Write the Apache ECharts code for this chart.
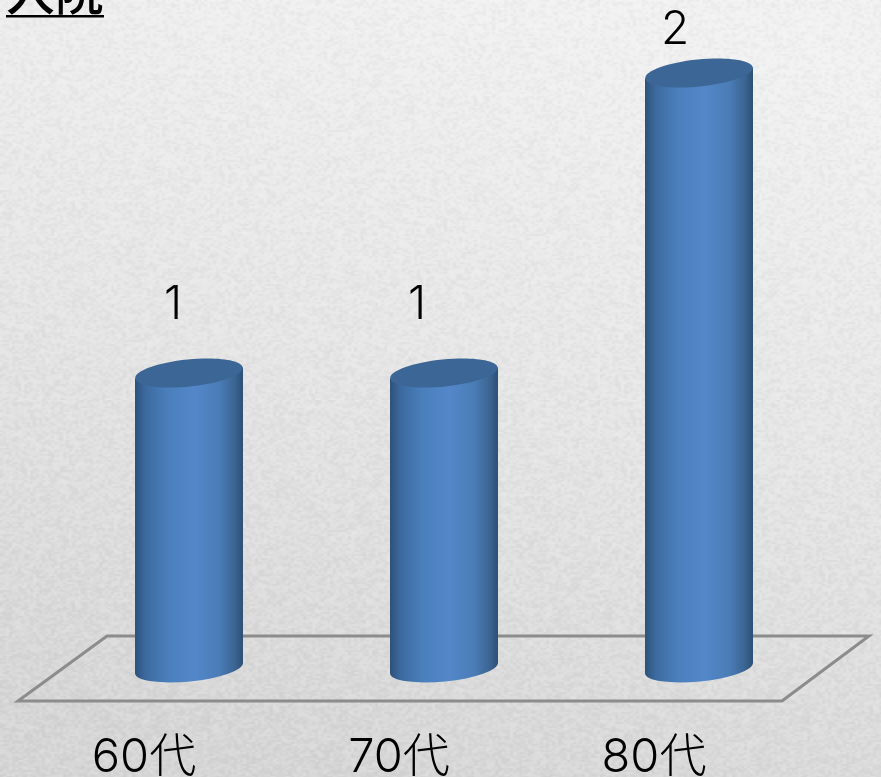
<!DOCTYPE html>
<html>
<head>
<meta charset="utf-8">
<title>入院</title>
<style>
html,body{margin:0;padding:0;background:#e8e8e8;}
#chart{width:881px;height:777px;}
</style>
<script src="https://cdn.jsdelivr.net/npm/echarts@6/dist/echarts.min.js"></script>
</head>
<body>
<div id="chart"></div>
<script>
"use strict";
var titleText = '入院';
var categories = ['60代', '70代', '80代'];
var values = [1, 1, 2];

// the value labels sit off-centre in the original 3D view
var labelDx = [-16, -27, -24];
var labelDy = [-68, -68, -43];
var FONT = 'Inter, "Noto Sans CJK JP"';
var RX = 54, RY = 13.5, TILT = 0.1;

// paper grain for the backdrop (fixed sequence, nothing to do with the data)
function makeGrain() {
    var small = document.createElement('canvas');
    small.width = 200; small.height = 200;
    var c = small.getContext('2d');
    var seed = 12345;
    for (var y = 0; y < 200; y++) {
        for (var x = 0; x < 200; x++) {
            seed = (seed * 1103515245 + 12345) & 0x7fffffff;
            var n = (seed >> 8) % 100;
            c.fillStyle = n < 50 ? 'rgba(0,0,0,' + (0.04 * (50 - n) / 50) + ')'
                                 : 'rgba(255,255,255,' + (0.2 * (n - 50) / 50) + ')';
            c.fillRect(x, y, 1, 1);
        }
    }
    var tile = document.createElement('canvas');
    tile.width = 600; tile.height = 400;
    var t = tile.getContext('2d');
    t.imageSmoothingEnabled = true;
    t.drawImage(small, 0, 0, 600, 400);
    return tile;
}

// cylinder: side path + tilted top ellipse
function renderCylinder(params, api) {
    var i = api.value(0);
    var top = api.coord([i, api.value(1)]);
    var base = api.coord([i, 0]);
    var cx = top[0];
    var dy = RX * Math.sin(TILT);
    var by = base[1] - 5;
    var rotDeg = -TILT * 180 / Math.PI;
    var d = 'M' + (cx - RX) + ' ' + (top[1] + dy) +
        ' L' + (cx + RX) + ' ' + (top[1] - dy) +
        ' L' + (cx + RX) + ' ' + (by - dy) +
        ' A' + RX + ' ' + RY + ' ' + rotDeg + ' 0 1 ' + (cx - RX) + ' ' + (by + dy) + ' Z';
    return {
        type: 'group',
        children: [
            {
                type: 'path',
                shape: { pathData: d },
                style: {
                    fill: new echarts.graphic.LinearGradient(0, 0, 1, 0, [
                        { offset: 0, color: '#2c5178' },
                        { offset: 0.1, color: '#3c6a9f' },
                        { offset: 0.3, color: '#4a7fbc' },
                        { offset: 0.55, color: '#5387c9' },
                        { offset: 0.78, color: '#4a7cb6' },
                        { offset: 0.92, color: '#3b6592' },
                        { offset: 1, color: '#2c4f74' }
                    ])
                }
            },
            {
                type: 'ellipse',
                x: cx, y: top[1], rotation: TILT,
                shape: { cx: 0, cy: 0, rx: RX, ry: RY },
                style: { fill: '#3c6695' }
            },
            {
                type: 'text',
                x: cx + labelDx[params.dataIndex],
                y: top[1] + labelDy[params.dataIndex],
                style: {
                    text: String(api.value(1)),
                    font: '300 46px ' + FONT,
                    fill: '#000',
                    align: 'center',
                    verticalAlign: 'middle'
                }
            }
        ]
    };
}

var myChart = echarts.init(document.getElementById('chart'));
var option = {
    animation: false,
    backgroundColor: new echarts.graphic.LinearGradient(0.6, 0, 0.4, 1, [
        { offset: 0, color: '#f2f2f2' },
        { offset: 0.5, color: '#e6e6e6' },
        { offset: 1, color: '#d6d6d6' }
    ]),
    // labels run close to the bottom edge, keep the grid where it is
    grid: { left: 61.5, right: 54.5, top: 73, bottom: 104, outerBoundsMode: 'none' },
    xAxis: {
        type: 'category',
        data: categories,
        axisLine: { show: false },
        axisTick: { show: false },
        axisLabel: {
            margin: 61,
            padding: [0, 90, 0, 0],
            fontFamily: FONT,
            fontWeight: 300,
            fontSize: 47,
            color: '#000'
        }
    },
    yAxis: { type: 'value', min: 0, max: 2, show: false },
    graphic: [
        {
            type: 'rect',
            z: -2,
            shape: { x: 0, y: 0, width: 881, height: 777 },
            style: { fill: { image: makeGrain(), repeat: 'repeat' } }
        },
        {
            type: 'polygon',
            z: -1,
            shape: { points: [[107, 636], [869, 636], [782, 701], [18, 701]] },
            style: { fill: 'rgba(0,0,0,0)', stroke: '#8c8c8c', lineWidth: 3 }
        },
        {
            type: 'text',
            x: 6, y: -33,
            style: { text: titleText, font: '500 49px "Noto Sans CJK JP"', fill: '#000' }
        },
        {
            type: 'rect',
            shape: { x: 6, y: 15, width: 98, height: 2.5 },
            style: { fill: '#000' }
        }
    ],
    series: [{
        type: 'custom',
        renderItem: renderCylinder,
        clip: false,
        encode: { x: 0, y: 1 },
        data: values.map(function (v, i) { return [i, v]; })
    }]
};
myChart.setOption(option, true);
</script>
</body>
</html>
